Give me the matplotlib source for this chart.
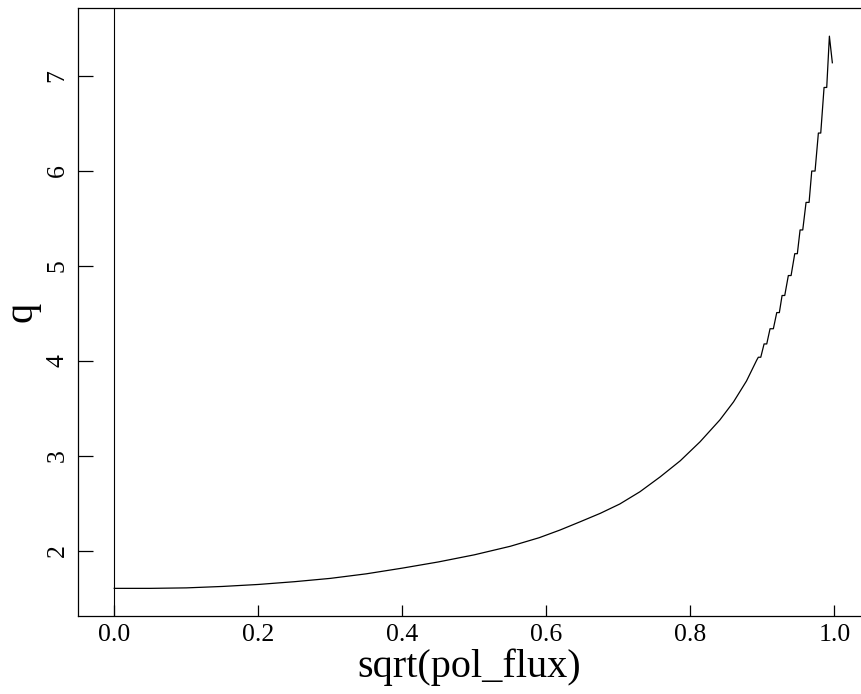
import numpy as np
import matplotlib
matplotlib.use("Agg")
import matplotlib.pyplot as plt

plt.rcParams['font.family'] = ['Liberation Serif', 'DejaVu Serif']

# safety factor profile q vs sqrt of normalised poloidal flux
rho_core = [0.0, 0.05, 0.10, 0.15, 0.20, 0.25, 0.30, 0.35, 0.40, 0.45, 0.50,
            0.55, 0.59, 0.619, 0.647, 0.675, 0.702, 0.730, 0.758, 0.786,
            0.8135, 0.841, 0.860, 0.878, 0.8922]
q_core = [1.607, 1.607, 1.612, 1.627, 1.648, 1.677, 1.712, 1.76, 1.82, 1.885, 1.96,
          2.05, 2.14, 2.221, 2.308, 2.397, 2.495, 2.624, 2.78, 2.95,
          3.15, 3.38, 3.57, 3.79, 4.01]

# edge region: the profile comes in plateau steps
step_start = [0.8944, 0.9024, 0.9107, 0.9200, 0.9274, 0.9361, 0.9450, 0.9524,
              0.9607, 0.9686, 0.9778, 0.9857]
step_end = [0.8978, 0.9061, 0.9153, 0.9236, 0.9311, 0.9399, 0.9486, 0.9561,
            0.9649, 0.9732, 0.9811, 0.9894]
step_q = [4.04, 4.18, 4.34, 4.51, 4.69, 4.90, 5.13, 5.38, 5.67, 6.00, 6.40, 6.88]

rho_tail = [0.9931, 0.9972]
q_tail = [7.42, 7.14]

rho = list(rho_core)
q = list(q_core)
for a, b, v in zip(step_start, step_end, step_q):
    rho += [a, b]
    q += [v, v]
rho += rho_tail
q += q_tail

fig = plt.figure(figsize=(8.61, 6.94), dpi=100)
ax = fig.add_axes([0.0909, 0.1128, 0.9091, 0.8752])

ax.plot(rho, q, color='black', lw=0.9)
ax.axvline(0.0, color='black', lw=0.8)

ax.set_xlim(-0.05, 1.037)
ax.set_ylim(1.319, 7.713)
ax.set_xticks([0.0, 0.2, 0.4, 0.6, 0.8, 1.0])
ax.set_xticklabels(['0.0', '0.2', '0.4', '0.6', '0.8', '1.0'])
ax.set_yticks([2, 3, 4, 5, 6, 7])

ax.spines['right'].set_visible(False)
for s in ['left', 'top', 'bottom']:
    ax.spines[s].set_linewidth(0.9)

ax.tick_params(axis='x', direction='in', length=8, width=0.9, labelsize=18.5, pad=6)
ax.tick_params(axis='y', direction='in', length=11, width=0.9, labelsize=18.5, pad=7)
for lab in ax.get_yticklabels():
    lab.set_rotation(90)
    lab.set_va('center')

ax.set_xlabel('sqrt(pol_flux)', fontsize=29, labelpad=2)
ax.set_ylabel('q', fontsize=29, labelpad=4)

fig.savefig('out.png', dpi=100)
